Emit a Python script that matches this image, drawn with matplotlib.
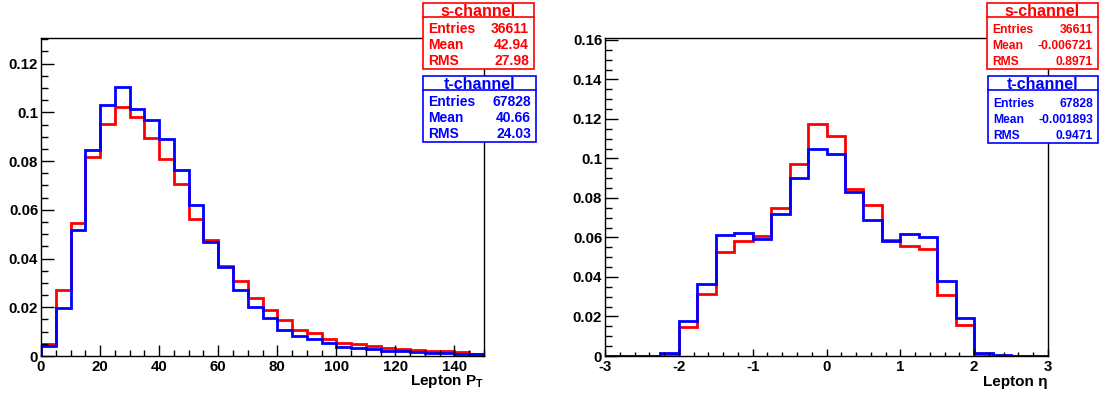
import numpy as np
import matplotlib
matplotlib.use('Agg')
import matplotlib.pyplot as plt
from matplotlib.patches import Rectangle
from matplotlib.lines import Line2D
from matplotlib.ticker import MultipleLocator

plt.rcParams['font.family'] = ['Liberation Sans', 'DejaVu Sans']
plt.rcParams['font.weight'] = 'bold'
plt.rcParams['mathtext.fontset'] = 'custom'
plt.rcParams['mathtext.rm'] = 'Liberation Sans:bold'
plt.rcParams['mathtext.bf'] = 'Liberation Sans:bold'
plt.rcParams['mathtext.it'] = 'Liberation Sans'

# ---- data: Lepton pT (5 GeV bins, 0-150) ----
pt_edges = np.arange(0, 155, 5)
pt_s = [0.0050, 0.0272, 0.0546, 0.0815, 0.0953, 0.1020, 0.0980, 0.0896, 0.0808, 0.0707,
        0.0562, 0.0475, 0.0369, 0.0306, 0.0240, 0.0190, 0.0146, 0.0106, 0.0094, 0.0068,
        0.0055, 0.0049, 0.0042, 0.0031, 0.0029, 0.0023, 0.0019, 0.0022, 0.0015, 0.0010]
pt_t = [0.0040, 0.0199, 0.0519, 0.0845, 0.1030, 0.1104, 0.1012, 0.0968, 0.0889, 0.0763,
        0.0618, 0.0466, 0.0364, 0.0270, 0.0203, 0.0156, 0.0105, 0.0083, 0.0070, 0.0053,
        0.0037, 0.0033, 0.0029, 0.0020, 0.0019, 0.0018, 0.0014, 0.0012, 0.0010, 0.0007]

# ---- data: Lepton eta (0.25 bins, -3..3) ----
eta_edges = np.linspace(-3, 3, 25)
eta_s = [0, 0, 0, 0.0010, 0.0149, 0.0315, 0.0528, 0.0583, 0.0607, 0.0748, 0.0974, 0.1177,
         0.1115, 0.0847, 0.0766, 0.0587, 0.0555, 0.0543, 0.0307, 0.0158, 0.0012, 0, 0, 0]
eta_t = [0, 0, 0, 0.0015, 0.0178, 0.0364, 0.0612, 0.0625, 0.0590, 0.0719, 0.0899, 0.1050,
         0.1024, 0.0830, 0.0691, 0.0580, 0.0620, 0.0605, 0.0380, 0.0191, 0.0017, 0.0003, 0, 0]

stats_pt = {'s-channel': ['36611', '42.94', '27.98'],
            't-channel': ['67828', '40.66', '24.03']}
stats_eta = {'s-channel': ['36611', '-0.006721', '0.8971'],
             't-channel': ['67828', '-0.001893', '0.9471']}

W, H = 1102, 394
fig = plt.figure(figsize=(W / 100, H / 100), dpi=100)


def axes_px(x0, x1, y0, y1):
    return fig.add_axes([x0 / W, 1 - y1 / H, (x1 - x0) / W, (y1 - y0) / H])


def style(ax, xmaj_len, xmin_len):
    ax.tick_params(which='both', direction='in', top=False, right=False,
                   labelsize=10.8, width=1, color='black')
    ax.tick_params(axis='y', which='major', length=9, pad=2)
    ax.tick_params(axis='y', which='minor', length=5)
    ax.tick_params(axis='x', which='major', length=xmaj_len, pad=3)
    ax.tick_params(axis='x', which='minor', length=xmin_len)
    for s in ax.spines.values():
        s.set_linewidth(1)
    for lab in ax.get_xticklabels() + ax.get_yticklabels():
        lab.set_fontweight('bold')


def stat_box(x0, x1, y0, y1, title, rows, color, fs_row):
    h = y1 - y0
    fig.add_artist(Rectangle((x0 / W, 1 - y1 / H), (x1 - x0) / W, h / H,
                             transform=fig.transFigure, facecolor='white',
                             edgecolor=color, linewidth=1.2, zorder=5))
    ydiv = y0 + 0.205 * h
    fig.add_artist(Line2D([x0 / W, x1 / W], [1 - ydiv / H] * 2, transform=fig.transFigure,
                          color=color, linewidth=1.2, zorder=6))
    fig.text((x0 + x1) / 2 / W, 1 - (y0 + 0.19 * h) / H, title, color=color,
             fontsize=11.5, fontweight='bold', ha='center', va='baseline', zorder=7)
    names = ['Entries', 'Mean', 'RMS']
    for frac, name, val in zip([0.46, 0.70, 0.94], names, rows):
        yb = 1 - (y0 + frac * h) / H
        fig.text((x0 + 5) / W, yb, name, color=color, fontsize=fs_row,
                 fontweight='bold', ha='left', va='baseline', zorder=7)
        fig.text((x1 - 5) / W, yb, val, color=color, fontsize=fs_row,
                 fontweight='bold', ha='right', va='baseline', zorder=7)


# left pad: lepton pT
ax1 = axes_px(41, 484, 38, 356)
ax1.stairs(pt_s, pt_edges, baseline=0, color='red', linewidth=2.0)
ax1.stairs(pt_t, pt_edges, baseline=0, color='blue', linewidth=2.0)
ax1.set_xlim(0, 150)
ax1.set_ylim(0, 0.1305)
ax1.xaxis.set_major_locator(MultipleLocator(20))
ax1.xaxis.set_minor_locator(MultipleLocator(5))
ax1.yaxis.set_minor_locator(MultipleLocator(0.005))
ax1.set_yticks([0, 0.02, 0.04, 0.06, 0.08, 0.1, 0.12],
               ['0', '0.02', '0.04', '0.06', '0.08', '0.1', '0.12'])
style(ax1, 8, 4)
ax1.set_xlabel(r'Lepton P$_{\mathbf{T}}$', fontsize=11, fontweight='bold', loc='right')
ax1.xaxis.set_label_coords(1.0, -0.055)

# right pad: lepton eta
ax2 = axes_px(605, 1048, 38, 356)
ax2.stairs(eta_s, eta_edges, baseline=0, color='red', linewidth=2.0)
ax2.stairs(eta_t, eta_edges, baseline=0, color='blue', linewidth=2.0)
ax2.set_xlim(-3, 3)
ax2.set_ylim(0, 0.161)
ax2.xaxis.set_minor_locator(MultipleLocator(0.2))
ax2.yaxis.set_minor_locator(MultipleLocator(0.005))
ax2.set_yticks([0, 0.02, 0.04, 0.06, 0.08, 0.1, 0.12, 0.14, 0.16],
               ['0', '0.02', '0.04', '0.06', '0.08', '0.1', '0.12', '0.14', '0.16'])
ax2.set_xticks([-3, -2, -1, 0, 1, 2, 3], ['-3', '-2', '-1', '0', '1', '2', '3'])
style(ax2, 5, 3)
ax2.set_xlabel('Lepton η', fontsize=11, fontweight='bold', loc='right')
ax2.xaxis.set_label_coords(1.0, -0.06)

stat_box(423, 534, 3, 69, 's-channel', stats_pt['s-channel'], 'red', 10)
stat_box(423, 536, 76, 142, 't-channel', stats_pt['t-channel'], 'blue', 10)
stat_box(987, 1098, 3, 69, 's-channel', stats_eta['s-channel'], 'red', 8.7)
stat_box(988, 1098, 76, 143, 't-channel', stats_eta['t-channel'], 'blue', 8.7)

fig.savefig('out.png', dpi=100)
